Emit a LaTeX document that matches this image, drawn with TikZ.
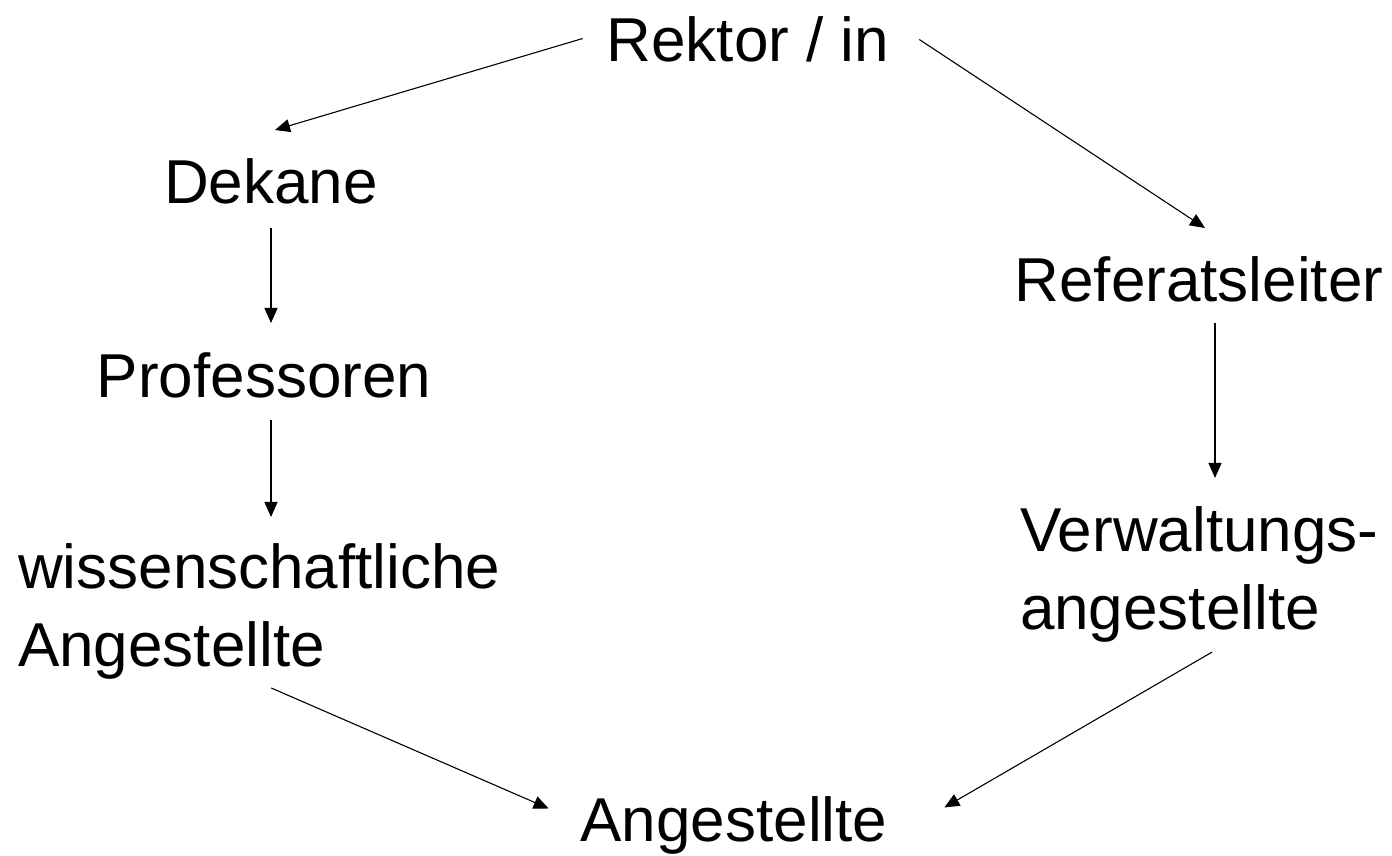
\documentclass[tikz,border=0pt]{standalone}
\usepackage{fontspec}
\setmainfont{Liberation Sans}
\usetikzlibrary{arrows.meta,calc}
\begin{document}
\begin{tikzpicture}[
  x=1pt, y=1pt,
  role/.style={inner sep=0pt, outer sep=0pt, text height=45pt, text depth=0pt, font=\fontsize{62}{78}\selectfont},
  tworole/.style={role, align=left, text height=123pt},
  arrow/.style={-{Triangle[length=15pt,width=13pt]}, line width=1.1pt}
]
\useasboundingbox (0,0) rectangle (1392,856);
\node[role, anchor=base] (rektor) at (748,794) {Rektor / in};
\node[role, anchor=base] (dekane) at (271,652) {Dekane};
\node[role, anchor=base] (prof) at (264,458) {Professoren};
\node[tworole, anchor=base west] (wiss) at (18,189) {wissenschaftliche\\Angestellte};
\node[role, anchor=base] (referat) at (1199,554) {Referatsleiter};
\node[tworole, anchor=base west] (verw) at (1020,226) {Verwaltungs-\\angestellte};
\node[role, anchor=base] (angest) at (734,14) {Angestellte};

\draw[arrow] ($(rektor.west)+(-24,1)$) -- ($(dekane.north)+(4,29)$);
\draw[arrow] ($(rektor.east)+(30,0)$) -- ($(referat.north)+(6,29)$);
\draw[arrow] ($(dekane.south)+(0,-24)$) -- ($(dekane.south |- prof.north)+(0,30)$);
\draw[arrow] ($(prof.south -| dekane.south)+(0,-22)$) -- ($(dekane.south |- wiss.north)+(0,27)$);
\draw[arrow] ($(referat.south)+(16,-21)$) -- ($(referat.south |- verw.north)+(16,29)$);
\draw[arrow] ($(wiss.south)+(12,-21)$) -- ($(angest.west)+(-32,11)$);
\draw[arrow] ($(verw.south)+(13,-22)$) -- ($(angest.east)+(57,12)$);
\end{tikzpicture}
\end{document}
